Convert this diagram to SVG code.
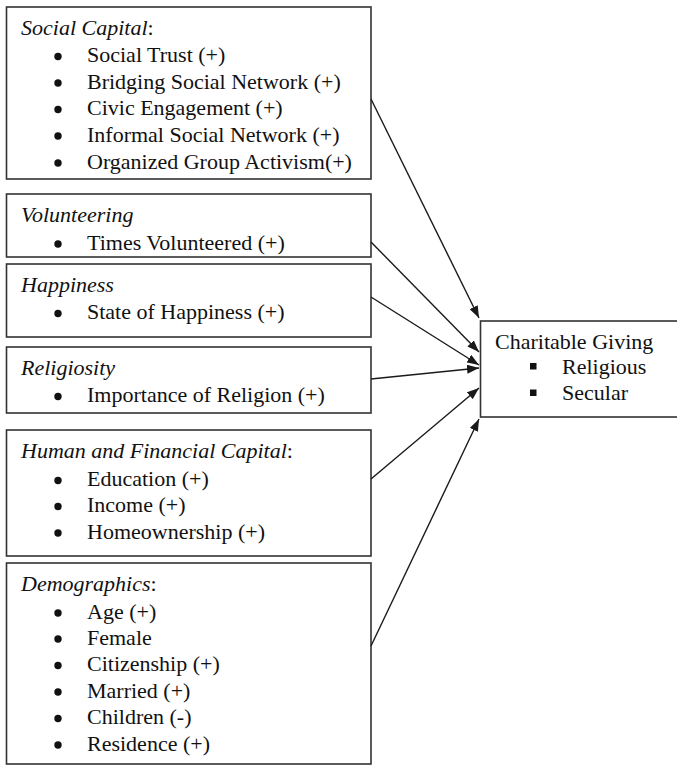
<svg xmlns="http://www.w3.org/2000/svg" width="677" height="765" viewBox="0 0 677 765">
<style>
text{font-family:"Liberation Serif","Times New Roman",serif;font-size:22px;fill:#111}
.t{font-style:italic}
circle.b{fill:#111}
rect.sq{fill:#111}
rect.box{fill:#fff;stroke:#333;stroke-width:1.6}
.edge{stroke:#1a1a1a;stroke-width:1.4;fill:none;marker-end:url(#ah)}
</style>
<defs>
<marker id="ah" markerUnits="userSpaceOnUse" markerWidth="13" markerHeight="9" refX="12" refY="4.5" orient="auto">
<path d="M0,0 L12,4.5 L0,9 z" fill="#1a1a1a"/>
</marker>
</defs>
<rect width="677" height="765" fill="#fff"/>
<g id="social-capital">
<rect class="box" x="6.5" y="7" width="364.5" height="172"/>
<text x="21" y="35"><tspan class="t">Social Capital</tspan>:</text>
<circle class="b" cx="58" cy="56.5" r="3.7"/><text x="87" y="62">Social Trust (+)</text>
<circle class="b" cx="58" cy="83" r="3.7"/><text x="87" y="88.5">Bridging Social Network (+)</text>
<circle class="b" cx="58" cy="109.5" r="3.7"/><text x="87" y="115">Civic Engagement (+)</text>
<circle class="b" cx="58" cy="136" r="3.7"/><text x="87" y="141.5">Informal Social Network (+)</text>
<circle class="b" cx="58" cy="163" r="3.7"/><text x="87" y="168.5">Organized Group Activism(+)</text>
</g>
<g id="volunteering">
<rect class="box" x="6.5" y="194" width="364.5" height="63"/>
<text class="t" x="21" y="222">Volunteering</text>
<circle class="b" cx="58" cy="244" r="3.7"/><text x="87" y="249.5">Times Volunteered (+)</text>
</g>
<g id="happiness">
<rect class="box" x="6.5" y="264" width="364.5" height="73"/>
<text class="t" x="21" y="292">Happiness</text>
<circle class="b" cx="58" cy="313.5" r="3.7"/><text x="87" y="319">State of Happiness (+)</text>
</g>
<g id="religiosity">
<rect class="box" x="6.5" y="347" width="364.5" height="66"/>
<text class="t" x="21" y="374.5">Religiosity</text>
<circle class="b" cx="58" cy="396.5" r="3.7"/><text x="87" y="402">Importance of Religion (+)</text>
</g>
<g id="human-financial-capital">
<rect class="box" x="6.5" y="430" width="364.5" height="126"/>
<text x="21" y="458"><tspan class="t">Human and Financial Capital</tspan>:</text>
<circle class="b" cx="58" cy="480.5" r="3.7"/><text x="87" y="486">Education (+)</text>
<circle class="b" cx="58" cy="506.5" r="3.7"/><text x="87" y="512">Income (+)</text>
<circle class="b" cx="58" cy="533" r="3.7"/><text x="87" y="538.5">Homeownership (+)</text>
</g>
<g id="demographics">
<rect class="box" x="6.5" y="563" width="364.5" height="201"/>
<text x="21" y="591"><tspan class="t">Demographics</tspan>:</text>
<circle class="b" cx="58" cy="613" r="3.7"/><text x="87" y="618.5">Age (+)</text>
<circle class="b" cx="58" cy="639" r="3.7"/><text x="87" y="644.5">Female</text>
<circle class="b" cx="58" cy="665.5" r="3.7"/><text x="87" y="671">Citizenship (+)</text>
<circle class="b" cx="58" cy="692" r="3.7"/><text x="87" y="697.5">Married (+)</text>
<circle class="b" cx="58" cy="718.5" r="3.7"/><text x="87" y="724">Children (-)</text>
<circle class="b" cx="58" cy="745" r="3.7"/><text x="87" y="750.5">Residence (+)</text>
</g>
<g id="charitable-giving">
<rect class="box" x="480.5" y="321" width="200" height="96"/>
<text x="495" y="349">Charitable Giving</text>
<rect class="sq" x="530" y="363" width="6.5" height="6.5"/><text x="562" y="373.5">Religious</text>
<rect class="sq" x="530" y="389.5" width="6.5" height="6.5"/><text x="562" y="399.5">Secular</text>
</g>
<g id="connectors">
<line class="edge" x1="371" y1="99" x2="479" y2="318"/>
<line class="edge" x1="371" y1="242" x2="479" y2="352"/>
<line class="edge" x1="371" y1="297" x2="479" y2="365"/>
<line class="edge" x1="371" y1="379" x2="479" y2="368"/>
<line class="edge" x1="371" y1="479" x2="479" y2="388"/>
<line class="edge" x1="371" y1="646" x2="479" y2="419"/>
</g>
</svg>
